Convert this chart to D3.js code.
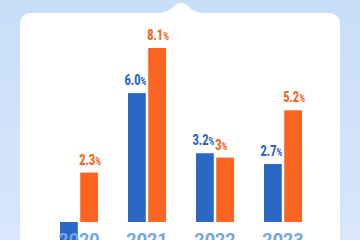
<!DOCTYPE html>
<html>
<head>
<meta charset="utf-8">
<script src="https://cdn.jsdelivr.net/npm/d3@7"></script>
<style>
  html, body { margin: 0; padding: 0; overflow: hidden; }
  svg { display: block; }
</style>
</head>
<body>
<svg id="chart" width="360" height="240"></svg>
<script>
const years = ["2020", "2021", "2022", "2023"];
const series = ["world", "china"];
const worldValues = [-3.1, 6.0, 3.2, 2.7];
const chinaValues = [2.3, 8.1, 3.0, 5.2];
const valueLabels = {
    world: ["-3.1", "6.0", "3.2", "2.7"],
    china: ["2.3", "8.1", "3", "5.2"]
};

const colors = { world: "#2b68c4", china: "#fb6421" };

const svg = d3.select("#chart"),
    width = +svg.attr("width"),
    height = +svg.attr("height");

// background gradient
const defs = svg.append("defs");
const bg = defs.append("linearGradient").attr("id", "bg")
    .attr("x1", 0).attr("y1", 0).attr("x2", 0).attr("y2", 1);
bg.append("stop").attr("offset", "0%").attr("stop-color", "#c8ddf8");
bg.append("stop").attr("offset", "100%").attr("stop-color", "#d8e7fa");
svg.append("rect").attr("width", width).attr("height", height).attr("fill", "url(#bg)");

// white card with a little notch on top
const cx0 = 20, cx1 = 340, cy0 = 13, r = 12;
const card = d3.path();
card.moveTo(cx0, height + 20);
card.lineTo(cx0, cy0 + r);
card.quadraticCurveTo(cx0, cy0, cx0 + r, cy0);
card.lineTo(158, cy0);
card.quadraticCurveTo(168, cy0, 174, 6);
card.quadraticCurveTo(181, -1, 188, 6);
card.quadraticCurveTo(194, cy0, 204, cy0);
card.lineTo(cx1 - r, cy0);
card.quadraticCurveTo(cx1, cy0, cx1, cy0 + r);
card.lineTo(cx1, height + 20);
card.closePath();
svg.append("path").attr("d", card.toString()).attr("fill", "#ffffff");

const x = d3.scaleBand().domain(years).range([45, 317]).padding(0);
const xSub = d3.scaleBand().domain(series).range([15, 53]).paddingInner(0.12);
const y = d3.scaleLinear().domain([0, 8.1]).range([222, 48]);

const data = [];
years.forEach((yr, i) => {
    data.push({ year: yr, key: "world", value: worldValues[i], label: valueLabels.world[i] });
    data.push({ year: yr, key: "china", value: chinaValues[i], label: valueLabels.china[i] });
});

svg.append("g")
    .selectAll("rect")
    .data(data)
    .join("rect")
    .attr("x", d => x(d.year) + xSub(d.key))
    .attr("y", d => y(Math.max(0, d.value)))
    .attr("width", xSub.bandwidth())
    .attr("height", d => Math.abs(y(d.value) - y(0)))
    .attr("fill", d => colors[d.key]);

// value labels, squeezed to look condensed
const lab = svg.append("g")
    .selectAll("text")
    .data(data)
    .join("text")
    .attr("transform", d => {
        const lx = d.key === "world"
            ? x(d.year) + xSub(d.key) + xSub.bandwidth() + 0.5
            : x(d.year) + xSub(d.key) - 1;
        const ly = d.value >= 0 ? y(d.value) - 8 : y(d.value) + 16;
        return `translate(${lx},${ly}) scale(0.78,1)`;
    })
    .attr("text-anchor", d => d.key === "world" ? "end" : "start")
    .style("font-family", "Roboto, sans-serif")
    .style("font-weight", "900")
    .style("font-size", "14px")
    .attr("fill", d => colors[d.key]);
lab.append("tspan").text(d => d.label);
lab.append("tspan").text("%").style("font-size", "10px");

// year labels
svg.append("g")
    .selectAll("text")
    .data(years)
    .join("text")
    .attr("x", d => x(d) + x.bandwidth() / 2)
    .attr("y", 246)
    .attr("text-anchor", "middle")
    .style("font-family", "Roboto, sans-serif")
    .style("font-weight", "bold")
    .style("font-size", "18px")
    .attr("fill", "#6ea6e6")
    .text(d => d);
</script>
</body>
</html>
